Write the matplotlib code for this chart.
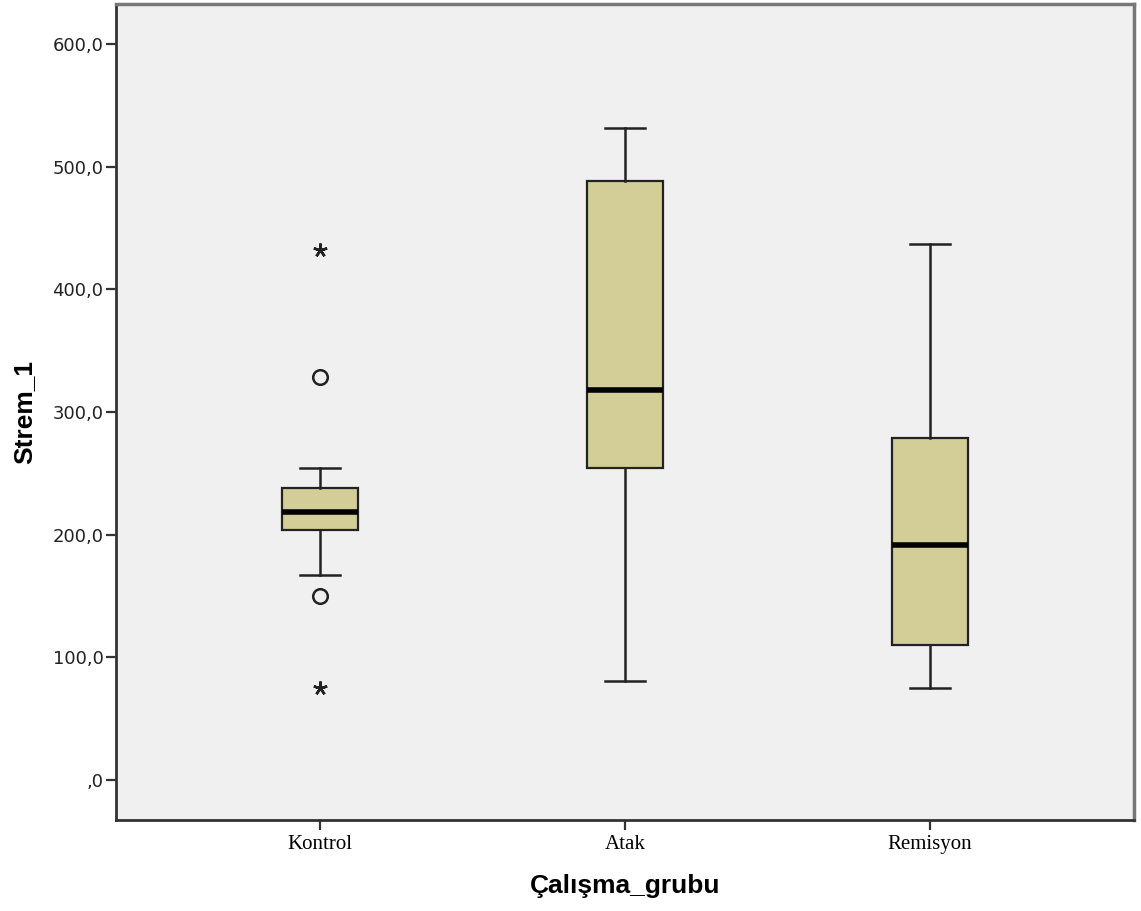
import matplotlib.pyplot as plt
import matplotlib.ticker as mticker

# group names and box statistics
groups = ["Kontrol", "Atak", "Remisyon"]
whisker_low = [167.0, 80.5, 75.0]
q1 = [203.8, 254.0, 110.0]
median = [218.5, 318.0, 191.6]
q3 = [238.0, 488.0, 278.8]
whisker_high = [254.3, 531.5, 437.0]

# outliers (circles) and extremes (stars), per group
outliers = [[328.5, 150.0], [], []]
extremes = [[432.0, 75.0], [], []]

yticks = [0, 100, 200, 300, 400, 500, 600]

BOX_COLOR = "#D3CE97"
BG_COLOR = "#F0F0F0"

fig = plt.figure(figsize=(11.41, 9.11), dpi=100)
ax = fig.add_axes([0.1017, 0.0999, 0.8922, 0.8957])
ax.set_facecolor(BG_COLOR)

stats = []
for i, name in enumerate(groups):
    stats.append(dict(label=name, whislo=whisker_low[i], q1=q1[i], med=median[i],
                      q3=q3[i], whishi=whisker_high[i], fliers=[]))

positions = list(range(1, len(groups) + 1))
ax.bxp(stats, positions=positions, widths=0.25, patch_artist=True, showfliers=False,
       boxprops=dict(facecolor=BOX_COLOR, edgecolor="#222222", linewidth=1.6),
       medianprops=dict(color="black", linewidth=4),
       whiskerprops=dict(color="#222222", linewidth=1.8),
       capprops=dict(color="#222222", linewidth=1.8),
       capwidths=0.13)

for pos, vals in zip(positions, outliers):
    if vals:
        ax.plot([pos] * len(vals), vals, linestyle="none", marker="o", markersize=10.5,
                markerfacecolor="none", markeredgecolor="#222222", markeredgewidth=1.8)
for pos, vals in zip(positions, extremes):
    if vals:
        ax.plot([pos] * len(vals), vals, linestyle="none", marker=(5, 2, 0), markersize=10,
                color="#222222", markeredgewidth=1.8)

ax.set_xlim(0.331, 3.669)
ax.set_ylim(-32.6, 632.6)
ax.set_yticks(yticks)
ax.yaxis.set_major_formatter(mticker.FuncFormatter(
    lambda v, p: ",0" if v == 0 else f"{v:.1f}".replace(".", ",")))
ax.set_xticks(positions)
ax.set_xticklabels(groups, family="Liberation Serif", fontsize=15)
for lab in ax.get_yticklabels():
    lab.set_fontsize(13)
    lab.set_color("#222222")

ax.tick_params(axis="both", length=7, width=1.6, color="#333333")
ax.tick_params(axis="y", pad=2)
ax.tick_params(axis="x", pad=4)

for side in ["left", "bottom"]:
    ax.spines[side].set_color("#333333")
    ax.spines[side].set_linewidth(2)
for side in ["top", "right"]:
    ax.spines[side].set_color("#777777")
    ax.spines[side].set_linewidth(2.5)

ax.set_xlabel("Çalışma_grubu", family="Liberation Sans", fontweight="bold", fontsize=19, labelpad=14)
ax.set_ylabel("Strem_1", family="Liberation Sans", fontweight="bold", fontsize=19, labelpad=12)

fig.savefig("out.png", dpi=100)
